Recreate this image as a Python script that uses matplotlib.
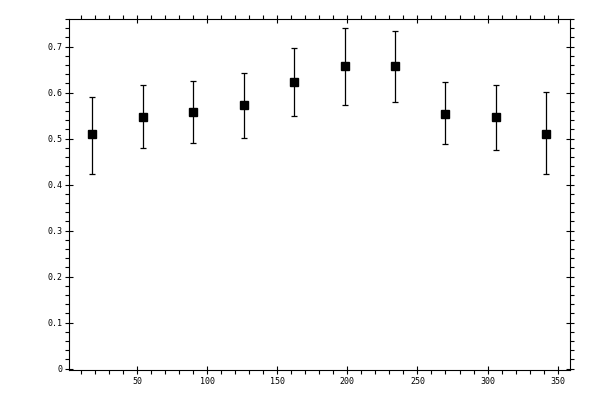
import numpy as np
import matplotlib
matplotlib.use("Agg")
import matplotlib.pyplot as plt
from matplotlib.ticker import MultipleLocator

x = [18, 54, 90, 126, 162, 198, 234, 270, 306, 342]
y = [0.509, 0.548, 0.557, 0.572, 0.624, 0.657, 0.657, 0.554, 0.546, 0.511]
y_hi = [0.590, 0.617, 0.625, 0.643, 0.698, 0.741, 0.735, 0.622, 0.617, 0.601]
y_lo = [0.424, 0.479, 0.491, 0.502, 0.550, 0.574, 0.579, 0.489, 0.476, 0.422]

err_lo = np.array(y) - np.array(y_lo)
err_hi = np.array(y_hi) - np.array(y)

plt.rcParams['font.family'] = ['DejaVu Sans Mono']

fig = plt.figure(figsize=(6, 4), dpi=100)
ax = fig.add_axes([0.115, 0.075, 0.835, 0.8775])

ax.errorbar(x, y, yerr=[err_lo, err_hi], fmt='s', color='black',
            markersize=6, ecolor='black', elinewidth=0.9, capsize=2,
            capthick=0.9)

ax.set_xlim(1.5, 358.8)
ax.set_ylim(-0.003, 0.76)

ax.xaxis.set_major_locator(MultipleLocator(50))
ax.xaxis.set_minor_locator(MultipleLocator(10))
ax.yaxis.set_major_locator(MultipleLocator(0.1))
ax.yaxis.set_minor_locator(MultipleLocator(0.02))

ax.xaxis.set_major_formatter(plt.FuncFormatter(lambda v, p: '' if v <= 0 else '%g' % v))
ax.yaxis.set_major_formatter(plt.FuncFormatter(lambda v, p: '%g' % v))

for s in ax.spines.values():
    s.set_linewidth(0.8)

ax.tick_params(which='major', direction='inout', length=6, width=0.8,
               top=True, right=True, labelsize=6, pad=2)
ax.tick_params(which='minor', direction='out', length=3, width=0.8,
               top=True, right=True)

fig.savefig('out.png', dpi=100)
